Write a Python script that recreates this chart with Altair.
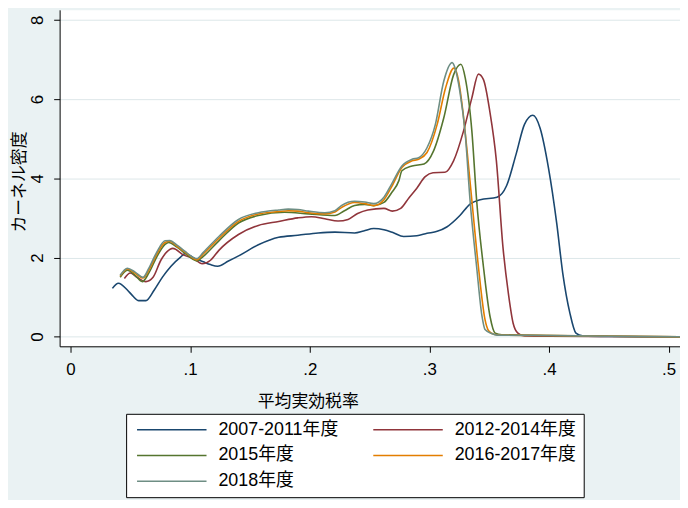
import altair as alt
import pandas as pd

series_names = ["2007-2011年度", "2012-2014年度", "2015年度", "2016-2017年度", "2018年度"]
series_colors = ["#1A476F", "#90353B", "#55752F", "#E37E00", "#6E8E84"]

x_0711 = [0.035, 0.040, 0.0475, 0.052, 0.057, 0.063, 0.070, 0.077, 0.084, 0.092, 0.096, 0.103,
          0.111, 0.117, 0.123, 0.132, 0.1405, 0.157, 0.174, 0.190, 0.207, 0.221, 0.2375, 0.245,
          0.2535, 0.262, 0.2695, 0.2785, 0.2895, 0.298, 0.3065, 0.3145, 0.3255, 0.334, 0.3425,
          0.3565, 0.3645, 0.3725, 0.3795, 0.3865, 0.3925, 0.3995, 0.4065, 0.4115, 0.4175, 0.4225,
          0.428, 0.45, 0.48, 0.5095]
y_0711 = [1.22, 1.35, 1.18, 1.03, 0.91, 0.91, 1.18, 1.51, 1.78, 2.01, 2.10, 1.99,
          1.89, 1.82, 1.78, 1.91, 2.04, 2.32, 2.51, 2.56, 2.62, 2.64, 2.62, 2.67,
          2.73, 2.70, 2.63, 2.53, 2.55, 2.61, 2.66, 2.77, 3.06, 3.35, 3.46,
          3.52, 3.81, 4.61, 5.36, 5.59, 5.27, 4.27, 2.85, 1.60, 0.59, 0.09,
          0.02, 0.005, 0.0, 0.0]

x_1214 = [0.045, 0.050, 0.0555, 0.063, 0.069, 0.0755, 0.0805, 0.0855, 0.0947, 0.103, 0.110, 0.117,
          0.124, 0.1404, 0.157, 0.174, 0.190, 0.2014, 0.2126, 0.2236, 0.232, 0.240, 0.2485, 0.262,
          0.269, 0.276, 0.283, 0.2895, 0.2965, 0.303, 0.313, 0.3202, 0.3285, 0.3355, 0.341, 0.3452,
          0.3505, 0.356, 0.3615, 0.366, 0.370, 0.374, 0.3795, 0.40, 0.45, 0.5095]
y_1214 = [1.47, 1.61, 1.50, 1.39, 1.50, 1.93, 2.14, 2.23, 2.06, 1.97, 1.84, 1.93,
          2.18, 2.58, 2.81, 2.91, 3.00, 3.03, 2.98, 2.92, 2.96, 3.11, 3.20, 3.24,
          3.17, 3.24, 3.51, 3.75, 4.04, 4.14, 4.15, 4.44, 5.19, 6.03, 6.63, 6.49,
          5.69, 4.44, 2.26, 1.10, 0.34, 0.09, 0.02, 0.01, 0.003, 0.0]

x_15 = [0.0415, 0.0475, 0.054, 0.060, 0.0655, 0.072, 0.079, 0.082, 0.089, 0.0955, 0.102, 0.1055,
        0.111, 0.124, 0.1404, 0.157, 0.179, 0.199, 0.221, 0.229, 0.2375, 0.246, 0.2535, 0.262,
        0.2685, 0.2745, 0.277, 0.2855, 0.2955, 0.3035, 0.312, 0.3202, 0.3263, 0.330, 0.3355,
        0.3395, 0.3452, 0.3507, 0.355, 0.3605, 0.40, 0.45, 0.5095]
y_15 = [1.50, 1.68, 1.55, 1.39, 1.61, 2.01, 2.33, 2.38, 2.26, 2.11, 1.96, 1.91,
        2.03, 2.42, 2.87, 3.06, 3.14, 3.10, 3.06, 3.18, 3.31, 3.34, 3.31, 3.39,
        3.64, 3.94, 4.19, 4.31, 4.36, 4.69, 5.52, 6.61, 6.88, 6.53, 5.19,
        3.44, 1.76, 0.51, 0.09, 0.05, 0.03, 0.01, 0.0]

x_1617 = [0.0415, 0.0475, 0.054, 0.0606, 0.0655, 0.072, 0.079, 0.083, 0.089, 0.0955, 0.102, 0.1055,
          0.111, 0.124, 0.1404, 0.157, 0.174, 0.182, 0.190, 0.199, 0.2126, 0.221, 0.2264, 0.2375,
          0.246, 0.2535, 0.262, 0.2685, 0.277, 0.2855, 0.291, 0.298, 0.3065, 0.3135, 0.3205,
          0.3245, 0.328, 0.3315, 0.3355, 0.341, 0.3465, 0.3495, 0.354, 0.3585, 0.40, 0.45, 0.5095]
y_1617 = [1.53, 1.71, 1.60, 1.48, 1.68, 2.08, 2.38, 2.41, 2.28, 2.14, 1.99, 1.94,
          2.09, 2.48, 2.91, 3.10, 3.16, 3.18, 3.17, 3.13, 3.10, 3.15, 3.26, 3.39,
          3.36, 3.31, 3.46, 3.79, 4.27, 4.44, 4.48, 4.65, 5.36, 6.28, 6.78,
          6.45, 5.69, 4.69, 3.44, 1.76, 0.43, 0.15, 0.06, 0.04, 0.03, 0.01, 0.0]

x_18 = [0.0415, 0.0475, 0.054, 0.0606, 0.0655, 0.072, 0.079, 0.083, 0.089, 0.0955, 0.102, 0.1055,
        0.111, 0.124, 0.1404, 0.157, 0.174, 0.182, 0.190, 0.199, 0.2126, 0.221, 0.2264, 0.2375,
        0.246, 0.2535, 0.262, 0.2685, 0.277, 0.2855, 0.291, 0.298, 0.305, 0.312, 0.319,
        0.3215, 0.3255, 0.330, 0.334, 0.3395, 0.344, 0.3465, 0.352, 0.3565, 0.40, 0.45, 0.5095]
y_18 = [1.55, 1.73, 1.63, 1.50, 1.73, 2.13, 2.42, 2.43, 2.31, 2.16, 2.01, 1.97,
        2.13, 2.53, 2.96, 3.13, 3.20, 3.22, 3.21, 3.17, 3.13, 3.18, 3.31, 3.42,
        3.40, 3.36, 3.52, 3.86, 4.31, 4.48, 4.52, 4.77, 5.36, 6.45, 6.92,
        6.78, 6.19, 5.11, 3.44, 1.76, 0.51, 0.18, 0.08, 0.04, 0.03, 0.01, 0.0]

x_ticks = [0, 0.1, 0.2, 0.3, 0.4, 0.5]
y_ticks = [0, 2, 4, 6, 8]

rows = []
for name, xs, ys in zip(series_names,
                        [x_0711, x_1214, x_15, x_1617, x_18],
                        [y_0711, y_1214, y_15, y_1617, y_18]):
    for i, (a, b) in enumerate(zip(xs, ys)):
        rows.append({"series": name, "x": a, "y": b, "order": i})
df = pd.DataFrame(rows)

FONT = "Liberation Sans, Arial, Noto Sans CJK JP"

chart = alt.Chart(df).mark_line(strokeWidth=1.6, interpolate="monotone", clip=True).encode(
    x=alt.X("x:Q",
            scale=alt.Scale(domain=[-0.00913, 0.5095], nice=False, zero=False),
            axis=alt.Axis(values=x_ticks,
                          labelExpr="datum.value == 0 ? '0' : replace(format(datum.value, '.1f'), '0.', '.')",
                          title="平均実効税率", titleX=250, titleY=56,
                          titleAlign="center", titleBaseline="middle",
                          labelPadding=9, tickSize=6, grid=False)),
    y=alt.Y("y:Q",
            scale=alt.Scale(domain=[-0.243, 8.253], nice=False, zero=False),
            axis=alt.Axis(values=y_ticks, labelAngle=270, labelAlign="center",
                          labelBaseline="alphabetic", labelPadding=11, tickSize=6,
                          title="カーネル密度", titleAngle=270, titleX=-40, titleY=173,
                          titleAlign="center", titleBaseline="middle",
                          grid=True, gridColor="#DDE7E9", gridWidth=1)),
    color=alt.Color("series:N",
                    scale=alt.Scale(domain=series_names, range=series_colors),
                    legend=alt.Legend(orient="none", legendX=67, legendY=407,
                                      direction="horizontal", columns=2, title=None,
                                      symbolType="M-1,0H13", symbolSize=100,
                                      symbolStrokeWidth=1.5, labelFontSize=18,
                                      labelFont=FONT, labelColor="black",
                                      labelOffset=68, columnPadding=31, rowPadding=8,
                                      padding=7, strokeColor="black", fillColor="white",
                                      labelLimit=400)),
    order="order:Q",
).properties(
    width=625, height=339,
    autosize=alt.AutoSizeParams(type="none"),
    padding={"left": 52, "top": 0, "right": 0, "bottom": 153},
    background="#EAF2F3",
).configure_view(
    stroke="transparent", fill="white"
).configure_axis(
    domainColor="black", domainWidth=1, tickColor="black", tickWidth=1,
    labelFont=FONT, labelFontSize=17, labelColor="black",
    titleFont=FONT, titleFontSize=17, titleFontWeight="normal", titleColor="black",
)

chart.save("out.html", embed_options={"renderer": "svg", "actions": False})
